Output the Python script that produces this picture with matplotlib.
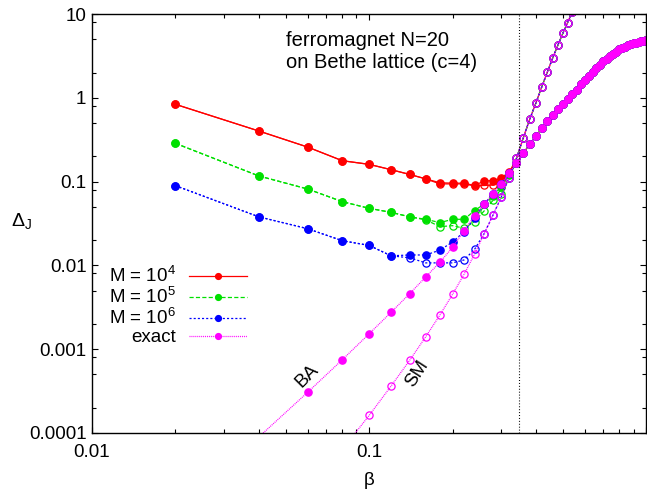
import matplotlib
matplotlib.use("Agg")
import matplotlib.pyplot as plt
from matplotlib.ticker import FixedLocator, FixedFormatter, LogLocator, NullFormatter

plt.rcParams['font.family'] = ['Liberation Sans', 'DejaVu Sans']
plt.rcParams['mathtext.fontset'] = 'custom'
plt.rcParams['mathtext.rm'] = 'Liberation Sans'
plt.rcParams['mathtext.it'] = 'Liberation Sans:italic'
plt.rcParams['lines.scale_dashes'] = False

# inverse temperature grid
beta_low = [0.02, 0.04, 0.06, 0.08, 0.10, 0.12, 0.14, 0.16,
            0.18, 0.20, 0.22, 0.24, 0.26, 0.28, 0.30, 0.32]
beta_high = [0.34, 0.36, 0.38, 0.40, 0.42, 0.44, 0.46, 0.48, 0.50, 0.52,
             0.54, 0.56, 0.58, 0.60, 0.62, 0.64, 0.66, 0.68, 0.70, 0.72,
             0.74, 0.76, 0.78, 0.80, 0.82, 0.84, 0.86, 0.88, 0.90, 0.92,
             0.94, 0.96, 0.98, 1.00]
beta_sm_high = [0.34, 0.36, 0.38, 0.40, 0.42, 0.44, 0.46, 0.48, 0.50, 0.52, 0.54]
beta_c = 0.3466

# filled symbols: BA, open symbols: SM  (beta < beta_c part)
m4_ba_low = [0.84, 0.403, 0.259, 0.178, 0.161, 0.139, 0.122, 0.108,
             0.097, 0.096, 0.096, 0.090, 0.102, 0.103, 0.110, 0.132]
m4_sm_low = [0.84, 0.403, 0.259, 0.178, 0.161, 0.139, 0.122, 0.108,
             0.094, 0.094, 0.094, 0.089, 0.090, 0.091, 0.105, 0.128]
m5_ba_low = [0.287, 0.117, 0.0817, 0.0577, 0.048, 0.043, 0.038, 0.0355,
             0.0324, 0.0355, 0.0355, 0.045, 0.054, 0.068, 0.087, 0.12]
m5_sm_low = [0.287, 0.117, 0.0817, 0.0577, 0.048, 0.043, 0.038, 0.035,
             0.029, 0.0298, 0.0277, 0.0333, 0.0447, 0.060, 0.0713, 0.112]
m6_ba_low = [0.0896, 0.038, 0.0274, 0.0197, 0.0173, 0.013, 0.0133, 0.0133,
             0.0152, 0.019, 0.0252, 0.037, 0.054, 0.072, 0.095, 0.126]
m6_sm_low = [0.0896, 0.038, 0.0274, 0.0197, 0.0173, 0.013, 0.0123, 0.0107,
             0.0107, 0.0107, 0.0116, 0.0155, 0.024, 0.040, 0.066, 0.112]

# exact curves
beta_exact_ba = beta_low[1:]
exact_ba_low = [8.9e-5, 3.04e-4, 7.45e-4, 1.52e-3, 2.75e-3, 4.58e-3, 7.26e-3,
                0.0109, 0.0164, 0.026, 0.039, 0.054, 0.072, 0.095, 0.126]
beta_exact_sm = beta_low[2:]
exact_sm_low = [2.2e-5, 6.3e-5, 1.61e-4, 3.61e-4, 7.33e-4, 1.40e-3, 2.55e-3,
                4.51e-3, 7.82e-3, 0.01355, 0.0238, 0.040, 0.066, 0.112]

# beta > beta_c: all BA curves coincide, all SM curves coincide
ba_high = [0.166, 0.219, 0.282, 0.351, 0.437, 0.531, 0.631, 0.741, 0.851, 0.977,
           1.12, 1.26, 1.45, 1.64, 1.84, 2.04, 2.27, 2.51, 2.75, 2.95,
           3.16, 3.39, 3.59, 3.80, 3.95, 4.10, 4.24, 4.38, 4.50, 4.60,
           4.70, 4.79, 4.86, 4.93]
sm_high = [0.19, 0.335, 0.561, 0.879, 1.37, 2.06, 3.03, 4.30, 5.93, 7.94, 10.7]

labels = [r'M = 10$^4$', r'M = 10$^5$', r'M = 10$^6$', 'exact']
colors = ['#ff0000', '#00e000', '#0000ff', '#ff00ff']
dashes = [None, (3.0, 1.6), (1.5, 1.5), (0.7, 0.7)]

series = [
    (beta_low, m4_ba_low, beta_low, m4_sm_low),
    (beta_low, m5_ba_low, beta_low, m5_sm_low),
    (beta_low, m6_ba_low, beta_low, m6_sm_low),
    (beta_exact_ba, exact_ba_low, beta_exact_sm, exact_sm_low),
]

fig = plt.figure(figsize=(6.47, 4.96), dpi=100)
ax = fig.add_axes([92 / 647, 1 - 432.7 / 496, (646.3 - 92) / 647, (432.7 - 14.3) / 496])

for (xb, yb, xs, ys), lab, col, ds in zip(series, labels, colors, dashes):
    kw = dict(color=col, lw=0.9)
    if ds is not None:
        kw['dashes'] = ds
    ax.plot(list(xb) + beta_high, list(yb) + ba_high, marker='o', ms=5.2,
            mec=col, mfc=col, label=lab, **kw)
    ax.plot(list(xs) + beta_sm_high, list(ys) + sm_high, marker='o', ms=5.2,
            mec=col, mfc='none', mew=0.9, **kw)

ax.axvline(beta_c, color='black', lw=0.8, dashes=(0.7, 1.4))

ax.set_xscale('log')
ax.set_yscale('log')
ax.set_xlim(0.01, 1)
ax.set_ylim(1e-4, 10)

# the "1" label sits past the right edge of the picture, so it is left empty
ax.xaxis.set_major_locator(FixedLocator([0.01, 0.1, 1]))
ax.xaxis.set_major_formatter(FixedFormatter(['0.01', '0.1', '']))
ax.xaxis.set_minor_locator(LogLocator(subs=range(2, 10), numticks=20))
ax.xaxis.set_minor_formatter(NullFormatter())
ax.yaxis.set_major_locator(FixedLocator([1e-4, 1e-3, 1e-2, 0.1, 1, 10]))
ax.yaxis.set_major_formatter(FixedFormatter(['0.0001', '0.001', '0.01', '0.1', '1', '10']))
ax.yaxis.set_minor_locator(LogLocator(subs=[2, 5, 8], numticks=20))
ax.yaxis.set_minor_formatter(NullFormatter())

ax.tick_params(which='both', direction='in', top=True, right=True,
               labelsize=13.5, width=0.8)
ax.tick_params(which='major', length=4)
ax.tick_params(which='minor', length=3)
ax.tick_params(axis='x', pad=8)
ax.tick_params(axis='y', pad=4)
for sp in ax.spines.values():
    sp.set_linewidth(1.0)

ax.set_xlabel('β', fontsize=13.5, va='top')
ax.xaxis.set_label_coords(0.5, -0.094)
ax.set_ylabel(r'$\Delta_{\mathrm{J}}$', fontsize=14, rotation=0, va='center', ha='center')
ax.yaxis.set_label_coords(-0.128, 0.505)

ax.text(0.35, 0.912, 'ferromagnet N=20\non Bethe lattice (c=4)',
        transform=ax.transAxes, fontsize=14.5, va='center', ha='left',
        linespacing=1.2)

ax.text(0.0595, 4.8e-4, 'BA', rotation=45, fontsize=13.5, ha='center', va='center')
ax.text(0.149, 5.0e-4, 'SM', rotation=57, fontsize=13.5, ha='center', va='center')

ax.legend(loc='upper right', bbox_to_anchor=(247 / 647, 1 - 266 / 496),
          bbox_transform=fig.transFigure, frameon=False, markerfirst=False,
          fontsize=13.5, handlelength=3.1, handletextpad=0.7, borderpad=0,
          borderaxespad=0, labelspacing=0.05, numpoints=1, markerscale=0.8)

fig.savefig('out.png', dpi=100)
